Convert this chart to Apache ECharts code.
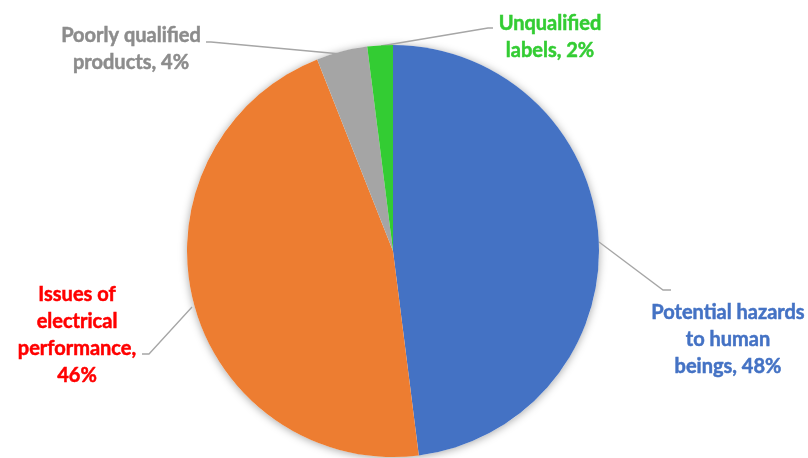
<!DOCTYPE html>
<html>
<head>
<meta charset="utf-8">
<script src="https://cdn.jsdelivr.net/npm/echarts@6/dist/echarts.min.js"></script>
<style>
html,body{margin:0;padding:0;background:#fff;}
#chart{width:808px;height:458px;}
</style>
</head>
<body>
<div id="chart"></div>
<script>
// Categories and values
const categories = ['Potential hazards\nto human\nbeings', 'Issues of\nelectrical\nperformance', 'Poorly qualified\nproducts', 'Unqualified\nlabels'];
const values = [48, 46, 4, 2];
const labelSeparators = [', ', ',\n', ', ', ', '];

const sliceColors = ['#4472C4', '#ED7D31', '#A5A5A5', '#33CC33'];
const labelColors = ['#4472C4', '#FF0000', '#8C8C8C', '#33CC33'];

const center = [393, 251];
const radius = 206;

// label placements (layout only)
const labelPos = [
  {x: 728, y: 340, line: [[599, 242], [663, 290], [671, 290]]},
  {x: 77, y: 335, line: [[192, 307], [149, 354], [142, 354]]},
  {x: 131, y: 49, line: [[341, 54], [211, 42], [206, 42]]},
  {x: 550, y: 37, line: [[381, 46], [488, 28], [493, 28]]}
];

const chart = echarts.init(document.getElementById('chart'), null, {renderer: 'canvas'});

const data = categories.map((c, i) => ({
  name: c,
  value: values[i],
  itemStyle: {color: sliceColors[i]},
  label: {color: labelColors[i], textBorderColor: labelColors[i], textBorderWidth: 0.5, formatter: c + labelSeparators[i] + '{d}%'}
}));

chart.setOption({
  animation: false,
  backgroundColor: '#ffffff',
  series: [
    {
      type: 'pie',
      silent: true,
      center: center,
      radius: radius,
      z: 1,
      label: {show: false},
      labelLine: {show: false},
      data: [{value: 1, itemStyle: {color: '#ffffff', shadowBlur: 8, shadowColor: 'rgba(0,0,0,0.35)', shadowOffsetX: 0, shadowOffsetY: 1}}]
    },
    {
      type: 'pie',
      center: center,
      radius: radius,
      startAngle: 90,
      clockwise: true,
      z: 2,
      percentPrecision: 0,
      avoidLabelOverlap: false,
      itemStyle: {borderWidth: 0},
      label: {
        show: true,
        position: 'outside',
        fontFamily: 'Lato',
        fontWeight: 'bold',
        fontSize: 20,
        lineHeight: 27,
        align: 'center'
      },
      labelLine: {show: true, lineStyle: {color: '#A6A6A6', width: 1.3}},
      labelLayout: function (params) {
        const p = labelPos[params.dataIndex];
        return {x: p.x, y: p.y, align: 'center', verticalAlign: 'middle', labelLinePoints: p.line};
      },
      emphasis: {disabled: true},
      data: data
    }
  ]
});
</script>
</body>
</html>
